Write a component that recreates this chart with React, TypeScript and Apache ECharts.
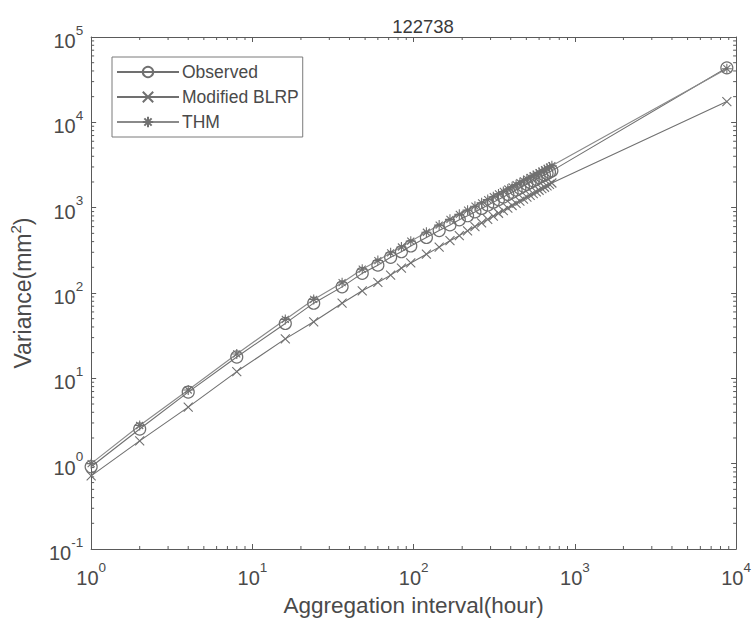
import React, { useEffect, useRef } from "react";
import * as echarts from "echarts";

const intervals = [1, 2, 4, 8, 16, 24, 36, 48, 60, 72, 84, 96, 120, 144, 168, 192, 216, 240, 264, 288, 312, 336, 360, 384, 408, 432, 456, 480, 504, 528, 552, 576, 600, 624, 648, 672, 696, 720, 8760];
const observed = [0.92, 2.55, 6.9, 17.8, 44, 76, 118, 170, 212, 262, 305, 356, 448, 540, 628, 720, 805, 892, 980, 1070, 1160, 1245, 1335, 1430, 1515, 1610, 1700, 1790, 1880, 1975, 2060, 2150, 2250, 2330, 2420, 2520, 2610, 2700, 43500];
const modifiedBLRP = [0.72, 1.85, 4.6, 12, 29, 46, 76, 106, 133, 162, 196, 225, 285, 345, 410, 470, 535, 600, 665, 728, 795, 860, 925, 990, 1060, 1125, 1190, 1260, 1330, 1395, 1460, 1530, 1600, 1670, 1735, 1805, 1875, 1945, 17500];
const thm = [1.0, 2.8, 7.3, 19.3, 49, 84, 132, 190, 240, 296, 346, 405, 515, 625, 730, 835, 935, 1040, 1140, 1245, 1345, 1450, 1550, 1655, 1755, 1860, 1960, 2065, 2165, 2270, 2370, 2475, 2580, 2680, 2785, 2890, 2990, 3100, 42500];

const xTickValues = [1, 10, 100, 1000, 10000];
const yTickValues = [0.1, 1, 10, 100, 1000, 10000, 100000];
const minorMultipliers = [2, 3, 4, 5, 6, 7, 8, 9];

const LINE = "#707070";
const TEXT = "#4a4a4a";
const AXIS = "#5a5a5a";
const FONT = "'Liberation Sans', Arial, sans-serif";

export default function App() {
  const ref = useRef<HTMLDivElement>(null);
  useEffect(() => {
    if (!ref.current) return;
    const chart = echarts.init(ref.current, undefined, { renderer: "svg" });

    const xMinor: number[] = [];
    for (let d = 0; d < xTickValues.length - 1; d++) for (const m of minorMultipliers) xMinor.push(xTickValues[d] * m);
    const yMinor: number[] = [];
    for (let d = 0; d < yTickValues.length - 1; d++) for (const m of minorMultipliers) yMinor.push(yTickValues[d] * m);

    const expLabel = (v: number) => {
      const e = Math.round(Math.log10(v));
      return "{b|10}{s|" + e + "}";
    };
    const rich = {
      b: { fontSize: 20, fontFamily: FONT, color: TEXT, lineHeight: 28, verticalAlign: "bottom" },
      s: { fontSize: 13.5, fontFamily: FONT, color: TEXT, lineHeight: 28, verticalAlign: "top" },
    };

    const circleSym = "circle";
    const crossSym = "path://M0 0L10 10M10 0L0 10";
    const starSym = "path://M5 0L5 10M0 5L10 5M1.5 1.5L8.5 8.5M8.5 1.5L1.5 8.5";

    const mk = (arr: number[]) => intervals.map((x, i) => [x, arr[i]]);

    const option: any = {
      animation: false,
      backgroundColor: "#fff",
      title: {
        text: "122738",
        left: 418,
        top: 12,
        textAlign: "center",
        textStyle: { fontFamily: FONT, fontSize: 18.5, fontWeight: "normal", color: "#3a3a3a" },
      },
      legend: {
        orient: "vertical",
        left: 112,
        top: 57,
        data: ["Observed", "Modified BLRP", "THM"],
        borderColor: "#7a7a7a",
        borderWidth: 1,
        padding: [6, 4, 6, 4],
        itemWidth: 62,
        itemHeight: 13,
        itemGap: 7,
        textStyle: { fontFamily: FONT, fontSize: 17.5, color: TEXT, padding: [0, 0, 0, -2] },
      },
      grid: { left: 91, right: 13, top: 37, bottom: 74, containLabel: false },
      xAxis: [
        {
          type: "log",
          logBase: 10,
          min: 1,
          max: 10000,
          position: "bottom",
          name: "Aggregation interval(hour)",
          nameLocation: "middle",
          nameGap: 45,
          nameTextStyle: { fontFamily: FONT, fontSize: 22.5, color: TEXT },
          axisLine: { show: true, lineStyle: { color: AXIS, width: 1 } },
          axisTick: { show: true, inside: true, length: 5, lineStyle: { color: AXIS } },
          axisLabel: { show: true, formatter: expLabel, rich, margin: 11 },
          splitLine: { show: false },
        },
        {
          type: "log",
          logBase: 10,
          min: 1,
          max: 10000,
          position: "top",
          axisLine: { show: true, lineStyle: { color: AXIS, width: 1 } },
          axisTick: { show: true, inside: true, length: 5, lineStyle: { color: AXIS } },
          axisLabel: { show: false },
          splitLine: { show: false },
        },
      ],
      yAxis: [
        {
          type: "log",
          logBase: 10,
          min: 0.1,
          max: 100000,
          position: "left",
          name: "Variance(mm{s|2})",
          nameLocation: "middle",
          nameGap: 48,
          nameTextStyle: {
            fontFamily: FONT,
            fontSize: 23,
            color: TEXT,
            rich: { s: { fontSize: 15, fontFamily: FONT, color: TEXT, verticalAlign: "top", lineHeight: 30 } },
            lineHeight: 30,
          },
          axisLine: { show: true, lineStyle: { color: AXIS, width: 1 } },
          axisTick: { show: true, inside: true, length: 5, lineStyle: { color: AXIS } },
          axisLabel: { show: true, formatter: expLabel, rich, margin: 8 },
          splitLine: { show: false },
        },
        {
          type: "log",
          logBase: 10,
          min: 0.1,
          max: 100000,
          position: "right",
          axisLine: { show: true, lineStyle: { color: AXIS, width: 1 } },
          axisTick: { show: true, inside: true, length: 5, lineStyle: { color: AXIS } },
          axisLabel: { show: false },
          splitLine: { show: false },
        },
      ],
      series: [
        {
          type: "custom",
          name: "xminor",
          silent: true,
          xAxisIndex: 0,
          yAxisIndex: 0,
          data: xMinor.map((v) => [v, 1]),
          renderItem: (params: any, api: any) => {
            const v = api.value(0);
            const b = api.coord([v, 0.1]);
            const t = api.coord([v, 100000]);
            const st = { stroke: AXIS, lineWidth: 1 };
            return {
              type: "group",
              children: [
                { type: "line", shape: { x1: b[0], y1: b[1], x2: b[0], y2: b[1] - 3 }, style: st },
                { type: "line", shape: { x1: t[0], y1: t[1], x2: t[0], y2: t[1] + 3 }, style: st },
              ],
            };
          },
        },
        {
          type: "custom",
          name: "yminor",
          silent: true,
          xAxisIndex: 0,
          yAxisIndex: 0,
          data: yMinor.map((v) => [1, v]),
          renderItem: (params: any, api: any) => {
            const v = api.value(1);
            const l = api.coord([1, v]);
            const r = api.coord([10000, v]);
            const st = { stroke: AXIS, lineWidth: 1 };
            return {
              type: "group",
              children: [
                { type: "line", shape: { x1: l[0], y1: l[1], x2: l[0] + 3, y2: l[1] }, style: st },
                { type: "line", shape: { x1: r[0], y1: r[1], x2: r[0] - 3, y2: r[1] }, style: st },
              ],
            };
          },
        },
        {
          type: "line",
          name: "Observed",
          data: mk(observed),
          symbol: circleSym,
          symbolSize: 12,
          showAllSymbol: true,
          lineStyle: { color: LINE, width: 1.1 },
          itemStyle: { color: "rgba(255,255,255,0)", borderColor: LINE, borderWidth: 1.2 },
          z: 3,
        },
        {
          type: "line",
          name: "Modified BLRP",
          data: mk(modifiedBLRP),
          symbol: crossSym,
          symbolSize: 9,
          showAllSymbol: true,
          lineStyle: { color: LINE, width: 1.1 },
          itemStyle: { color: "rgba(255,255,255,0)", borderColor: LINE, borderWidth: 1.1 },
          z: 3,
        },
        {
          type: "line",
          name: "THM",
          data: mk(thm),
          symbol: starSym,
          symbolSize: 10,
          showAllSymbol: true,
          lineStyle: { color: "#8a8a8a", width: 1.1 },
          itemStyle: { color: "rgba(255,255,255,0)", borderColor: LINE, borderWidth: 1.1 },
          z: 3,
        },
      ],
    };
    chart.setOption(option);
    return () => chart.dispose();
  }, []);
  return <div ref={ref} style={{ width: 754, height: 623, position: "absolute", left: 0, top: 0 }} />;
}
